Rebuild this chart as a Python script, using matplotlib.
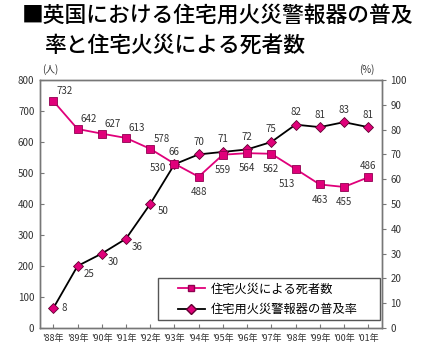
import matplotlib
matplotlib.use("Agg")
import matplotlib.pyplot as plt
from matplotlib.lines import Line2D
from matplotlib.patches import Rectangle

plt.rcParams['font.family'] = ['Noto Sans CJK JP', 'DejaVu Sans']

years = ["'88年", "'89年", "'90年", "'91年", "'92年", "'93年", "'94年",
         "'95年", "'96年", "'97年", "'98年", "'99年", "'00年", "'01年"]
deaths = [732, 642, 627, 613, 578, 530, 488, 559, 564, 562, 513, 463, 455, 486]
rate = [8, 25, 30, 36, 50, 66, 70, 71, 72, 75, 82, 81, 83, 81]
title_lines = ["■英国における住宅用火災警報器の普及", "率と住宅火災による死者数"]
legend_labels = ["住宅火災による死者数", "住宅用火災警報器の普及率"]

PINK = '#E0007A'
GRAY = '#777777'
TXT = '#333333'

fig = plt.figure(figsize=(4.23, 3.56), dpi=100)
ax = fig.add_axes([40/423, 1-328/356, (382-40)/423, (328-80)/356])
ax2 = ax.twinx()

x = list(range(len(years)))
ax.plot(x, deaths, color=PINK, lw=1.3, marker='s', ms=5.5,
        mfc=PINK, mec='#900050', mew=0.6, zorder=3)
ax2.plot(x, rate, color='black', lw=1.3, marker='D', ms=5.5,
         mfc=PINK, mec='#600030', mew=0.6, zorder=3)

ax.set_xlim(-0.55, 13.57)
ax.set_ylim(0, 800)
ax2.set_ylim(0, 100)
ax.set_xticks(x)
ax.set_xticklabels(years)
ax.set_yticks(range(0, 801, 100))
ax2.set_yticks(range(0, 101, 10))

for a in (ax, ax2):
    for s in a.spines.values():
        s.set_color(GRAY)
        s.set_linewidth(1.0)
ax.tick_params(axis='y', direction='in', length=3, color=GRAY, labelsize=7,
               labelcolor=TXT, pad=4)
ax.tick_params(axis='x', direction='in', length=3, color=GRAY, labelsize=6.5,
               labelcolor=TXT, pad=4)
ax2.tick_params(axis='y', direction='out', length=3, color=GRAY, labelsize=7,
                labelcolor=TXT, pad=3)
ax.set_zorder(ax2.get_zorder() + 1)
ax.patch.set_visible(False)

# pink labels: offsets in points
poff = [(8, 7), (8, 7), (8, 7), (8, 7), (8, 7), (-12, -3), (0, -11),
        (0, -11), (0, -11), (0, -11), (-6, -11), (0, -11), (0, -11), (0, 8)]
for xi, v, (dx, dy) in zip(x, deaths, poff):
    ax.annotate(str(v), (xi, v), xytext=(dx, dy), textcoords='offset points',
                ha='center', va='center', fontsize=7, color=TXT)
roff = [(8, 0), (8, -6), (8, -6), (8, -6), (9, -5), (0, 9), (0, 9),
        (0, 9), (0, 9), (0, 9), (0, 9), (0, 9), (0, 9), (0, 9)]
for xi, v, (dx, dy) in zip(x, rate, roff):
    ax.annotate(str(v), (xi, v * 8), xytext=(dx, dy), textcoords='offset points',
                ha='center', va='center', fontsize=7, color=TXT)

fig.text(50/423, 1-70/356, '(人)', fontsize=7, color=TXT, ha='center', va='center')
fig.text(367/423, 1-70/356, '(%)', fontsize=7, color=TXT, ha='center', va='center')

fig.text(22/423, 1-16/356, title_lines[0], fontsize=15.7, color='black',
         ha='left', va='center', fontweight='medium')
fig.text(44/423, 1-46/356, title_lines[1], fontsize=15.7, color='black',
         ha='left', va='center', fontweight='medium')

# legend box
box = Rectangle((0.345, 0.032), 0.994 - 0.345, 0.20 - 0.032,
                transform=ax.transAxes, facecolor='white', edgecolor='#555555',
                lw=1.0, zorder=5)
ax.add_patch(box)
handles = [Line2D([], [], color=PINK, lw=1.3, marker='s', ms=5, mfc=PINK, mec='#900050'),
           Line2D([], [], color='black', lw=1.3, marker='D', ms=5, mfc=PINK, mec='#600030')]
leg = ax.legend(handles, legend_labels, loc='center left',
                bbox_to_anchor=(0.403, 0.116), fontsize=8.8, frameon=False,
                handlelength=2.2, handletextpad=0.5, borderpad=0,
                borderaxespad=0, labelspacing=0.6)
leg.set_zorder(6)
for t in leg.get_texts():
    t.set_color('black')

fig.savefig('out.png', dpi=100)
